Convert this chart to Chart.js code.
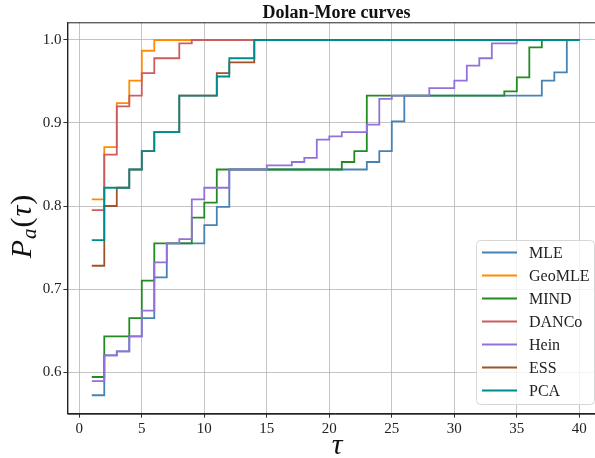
<!DOCTYPE html>
<html>
<head>
<meta charset="utf-8">
<script src="https://cdn.jsdelivr.net/npm/chart.js@4.4.0/dist/chart.umd.min.js"></script>
<style>
  html, body { margin: 0; padding: 0; background: #fff; overflow: hidden; }
  #wrap { width: 595px; height: 458px; overflow: hidden; }
</style>
</head>
<body>
<div id="wrap"><canvas id="dolan" width="610" height="458"></canvas></div>
<script>
// tau values (x axis)
const taus = [1, 2, 3, 4, 5, 6, 7, 8, 9, 10, 11, 12, 13, 14, 15, 16, 17, 18, 19, 20,
  21, 22, 23, 24, 25, 26, 27, 28, 29, 30, 31, 32, 33, 34, 35, 36, 37, 38, 39, 40];

// performance profiles, one value per tau
const mle = [0.572, 0.620, 0.625, 0.643, 0.665, 0.714, 0.755, 0.755, 0.755, 0.777,
  0.799, 0.844, 0.844, 0.844, 0.844, 0.844, 0.844, 0.844, 0.844, 0.844,
  0.844, 0.844, 0.853, 0.866, 0.902, 0.933, 0.933, 0.933, 0.933, 0.933,
  0.933, 0.933, 0.933, 0.933, 0.933, 0.933, 0.951, 0.961, 1.0, 1.0];
const geomle = [0.808, 0.871, 0.924, 0.951, 0.987, 1.0, 1.0, 1.0, 1.0, 1.0,
  1.0, 1.0, 1.0, 1.0, 1.0, 1.0, 1.0, 1.0, 1.0, 1.0,
  1.0, 1.0, 1.0, 1.0, 1.0, 1.0, 1.0, 1.0, 1.0, 1.0,
  1.0, 1.0, 1.0, 1.0, 1.0, 1.0, 1.0, 1.0, 1.0, 1.0];
const mind = [0.594, 0.643, 0.643, 0.665, 0.710, 0.755, 0.755, 0.755, 0.786, 0.804,
  0.844, 0.844, 0.844, 0.844, 0.844, 0.844, 0.844, 0.844, 0.844, 0.844,
  0.853, 0.866, 0.933, 0.933, 0.933, 0.933, 0.933, 0.933, 0.933, 0.933,
  0.933, 0.933, 0.933, 0.938, 0.955, 0.991, 1.0, 1.0, 1.0, 1.0];
const danco = [0.795, 0.862, 0.920, 0.933, 0.960, 0.978, 0.978, 0.996, 1.0, 1.0,
  1.0, 1.0, 1.0, 1.0, 1.0, 1.0, 1.0, 1.0, 1.0, 1.0,
  1.0, 1.0, 1.0, 1.0, 1.0, 1.0, 1.0, 1.0, 1.0, 1.0,
  1.0, 1.0, 1.0, 1.0, 1.0, 1.0, 1.0, 1.0, 1.0, 1.0];
const hein = [0.589, 0.620, 0.625, 0.643, 0.674, 0.732, 0.755, 0.760, 0.808, 0.822,
  0.822, 0.844, 0.844, 0.844, 0.849, 0.849, 0.853, 0.858, 0.880, 0.884,
  0.889, 0.889, 0.898, 0.929, 0.933, 0.933, 0.933, 0.942, 0.942, 0.951,
  0.969, 0.978, 0.996, 0.996, 1.0, 1.0, 1.0, 1.0, 1.0, 1.0];
const ess = [0.728, 0.800, 0.822, 0.844, 0.866, 0.889, 0.889, 0.933, 0.933, 0.933,
  0.960, 0.973, 0.973, 1.0, 1.0, 1.0, 1.0, 1.0, 1.0, 1.0,
  1.0, 1.0, 1.0, 1.0, 1.0, 1.0, 1.0, 1.0, 1.0, 1.0,
  1.0, 1.0, 1.0, 1.0, 1.0, 1.0, 1.0, 1.0, 1.0, 1.0];
const pca = [0.759, 0.822, 0.822, 0.844, 0.866, 0.889, 0.889, 0.933, 0.933, 0.933,
  0.956, 0.978, 0.978, 1.0, 1.0, 1.0, 1.0, 1.0, 1.0, 1.0,
  1.0, 1.0, 1.0, 1.0, 1.0, 1.0, 1.0, 1.0, 1.0, 1.0,
  1.0, 1.0, 1.0, 1.0, 1.0, 1.0, 1.0, 1.0, 1.0, 1.0];

const methods = ['MLE', 'GeoMLE', 'MIND', 'DANCo', 'Hein', 'ESS', 'PCA'];
const xTicks = [0, 5, 10, 15, 20, 25, 30, 35, 40];
const yTicks = [0.6, 0.7, 0.8, 0.9, 1.0];

const colors = ['#4682b4', '#ff8c00', '#228b22', '#cd5c5c', '#9370db', '#a0522d', '#008b8b'];
const series = [mle, geomle, mind, danco, hein, ess, pca];
const serif = "'Liberation Serif', 'Times New Roman', serif";

const datasets = series.map((vals, i) => ({
  label: methods[i],
  data: taus.map((t, k) => ({ x: t, y: vals[k] })),
  borderColor: colors[i],
  backgroundColor: colors[i],
  borderWidth: 1.8,
  pointRadius: 0,
  stepped: 'before',
  fill: false,
  order: series.length - i   // later series on top, like matplotlib
}));

// frame, title, axis labels and legend inside the axes
const decorations = {
  id: 'decorations',
  afterDraw(chart) {
    const ctx = chart.ctx;
    const a = chart.chartArea;
    ctx.save();
    ctx.strokeStyle = '#222';
    ctx.lineWidth = 1;
    ctx.strokeRect(a.left + 0.5, a.top + 0.5, a.right - a.left - 1, a.bottom - a.top);

    // title
    ctx.fillStyle = '#111';
    ctx.font = 'bold 18px ' + serif;
    ctx.textAlign = 'center';
    ctx.textBaseline = 'alphabetic';
    ctx.fillText('Dolan-More curves', 336.5, 18);

    // x label
    ctx.font = 'italic 30px ' + serif;
    ctx.fillText('τ', 337, 454);

    // y label P_a(τ)
    ctx.save();
    ctx.translate(31, 226);
    ctx.rotate(-Math.PI / 2);
    const parts = [
      { t: 'P', f: 'italic 30px ' + serif, dy: 0 },
      { t: 'a', f: 'italic 21px ' + serif, dy: 5 },
      { t: '(', f: '30px ' + serif, dy: 0 },
      { t: 'τ', f: 'italic 30px ' + serif, dy: 0 },
      { t: ')', f: '30px ' + serif, dy: 0 }
    ];
    let total = 0;
    parts.forEach(p => { ctx.font = p.f; p.w = ctx.measureText(p.t).width + 1; total += p.w; });
    let x = -total / 2;
    ctx.textAlign = 'left';
    parts.forEach(p => { ctx.font = p.f; ctx.fillText(p.t, x, p.dy); x += p.w; });
    ctx.restore();

    // legend box
    const bx = 476.5, by = 240.5, bw = 118, bh = 164;
    ctx.beginPath();
    ctx.roundRect(bx, by, bw, bh, 4);
    ctx.fillStyle = 'rgba(255,255,255,0.8)';
    ctx.fill();
    ctx.strokeStyle = '#d6d6d6';
    ctx.stroke();
    ctx.font = '16px ' + serif;
    ctx.textAlign = 'left';
    ctx.textBaseline = 'middle';
    chart.data.datasets.forEach((ds, i) => {
      const ry = 252.5 + i * 23;
      ctx.strokeStyle = ds.borderColor;
      ctx.lineWidth = 1.8;
      ctx.beginPath();
      ctx.moveTo(482, ry);
      ctx.lineTo(517, ry);
      ctx.stroke();
      ctx.fillStyle = '#222';
      ctx.fillText(ds.label, 529, ry + 1);
    });
    ctx.restore();
  }
};

new Chart(document.getElementById('dolan'), {
  type: 'line',
  data: { datasets: datasets },
  options: {
    responsive: false,
    animation: false,
    devicePixelRatio: 1,
    layout: { padding: { left: 0, right: 6.3, top: 22.3, bottom: 0 } },
    plugins: { legend: { display: false }, tooltip: { enabled: false } },
    scales: {
      x: {
        type: 'linear',
        min: -0.95,
        max: 41.95,
        afterBuildTicks: s => { s.ticks = xTicks.map(v => ({ value: v })); },
        afterFit: s => { s.height = 44.3; },
        grid: { color: 'rgba(176,176,176,0.75)', lineWidth: 1, tickLength: 4, tickColor: '#333' },
        border: { display: true, color: '#222', width: 1 },
        ticks: { font: { family: serif, size: 15 }, color: '#222', padding: 2, maxRotation: 0 }
      },
      y: {
        type: 'linear',
        min: 0.5498,
        max: 1.0213,
        afterBuildTicks: s => { s.ticks = yTicks.map(v => ({ value: v })); },
        afterFit: s => { s.width = 67.4; },
        grid: { color: 'rgba(176,176,176,0.75)', lineWidth: 1, tickLength: 4, tickColor: '#333' },
        border: { display: true, color: '#222', width: 1 },
        ticks: { font: { family: serif, size: 15 }, color: '#222', padding: 2,
          callback: v => v.toFixed(1) }
      }
    }
  },
  plugins: [decorations]
});
</script>
</body>
</html>
